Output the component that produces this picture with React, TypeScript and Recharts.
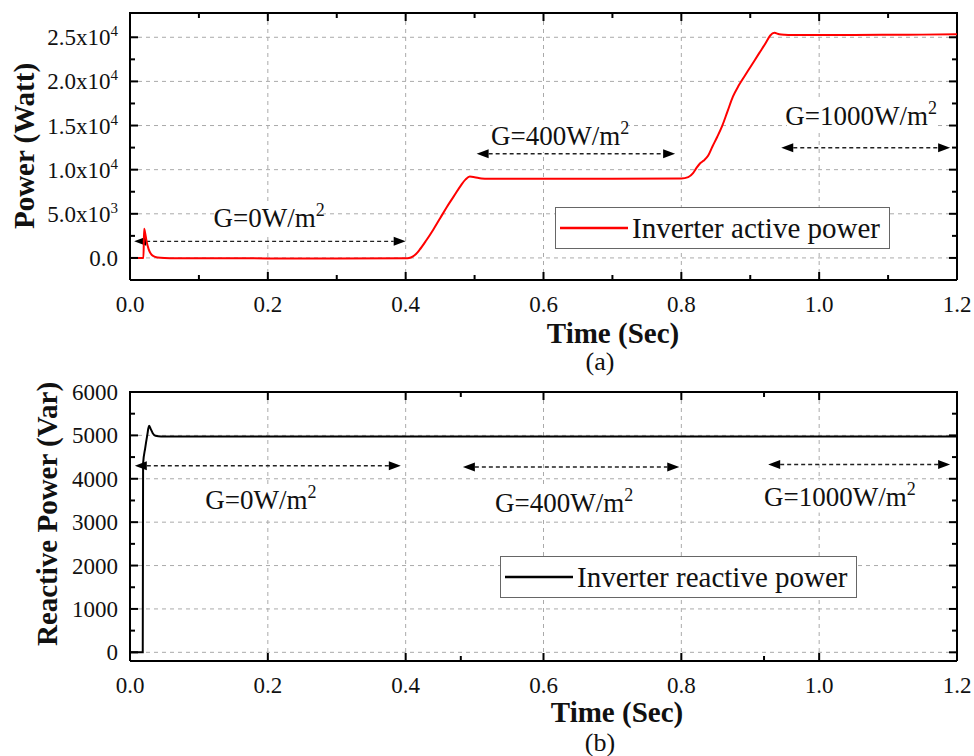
import React from "react";
import {
  Legend,
  Line,
  LineChart,
  ReferenceDot,
  ReferenceLine,
  XAxis,
  YAxis,
} from "recharts";

const SERIF = '"Liberation Serif", "Times New Roman", serif';

// (a) inverter active power (W) against time (s)
const TIME_P = [
  0, 0.0195, 0.0205, 0.022, 0.024, 0.027, 0.03, 0.034, 0.04, 0.05, 0.07, 0.1,
  0.2, 0.3, 0.4, 0.405, 0.41, 0.415, 0.42, 0.43, 0.44, 0.45, 0.46, 0.47, 0.48,
  0.487, 0.493, 0.5, 0.51, 0.52, 0.6, 0.7, 0.8, 0.81, 0.817, 0.822, 0.827,
  0.832, 0.839, 0.845, 0.852, 0.859, 0.867, 0.875, 0.883, 0.891, 0.9, 0.913,
  0.922, 0.929, 0.935, 0.942, 0.95, 0.96, 1.0, 1.05, 1.1, 1.15, 1.2,
];
const ACTIVE_P = [
  0, 0, 3300, 2800, 1900, 1000, 500, 200, 60, 0, -30, -40, -50, -50, -40, 0,
  150, 450, 900, 2000, 3200, 4500, 5800, 7000, 8200, 8900, 9220, 9150, 9000,
  8960, 8960, 8970, 8990, 9150, 9600, 10200, 10700, 11000, 11600, 12600, 13700,
  14900, 16600, 18300, 19500, 20500, 21600, 23200, 24300, 25200, 25500, 25350,
  25280, 25250, 25250, 25260, 25280, 25300, 25350,
];

// (b) inverter reactive power (Var) against time (s)
const TIME_Q = [
  0, 0.0185, 0.019, 0.022, 0.025, 0.0276, 0.03, 0.033, 0.037, 0.045, 0.1, 0.3,
  0.6, 0.9, 1.2,
];
const REACTIVE_Q = [
  0, 0, 4350, 4700, 5000, 5220, 5150, 5050, 4990, 4975, 4975, 4975, 4975, 4975,
  4975,
];

const TIME_MAJOR = [0, 0.2, 0.4, 0.6, 0.8, 1.0, 1.2];
const TIME_LABELS = ["0.0", "0.2", "0.4", "0.6", "0.8", "1.0", "1.2"];
const TIME_MINOR_A = [0.1, 0.3, 0.5, 0.7, 0.9, 1.1];
const TIME_MINOR_B = [0.48, 0.92];
const T_DOMAIN = [0, 1.2];

const P_MAJOR = [0, 5000, 10000, 15000, 20000, 25000];
const P_LABELS = ["0.0", "5.0x10^3", "1.0x10^4", "1.5x10^4", "2.0x10^4", "2.5x10^4"];
const P_MINOR = [2500, 7500, 12500, 17500, 22500];
const P_DOMAIN = [-2500, 27750];

const Q_MAJOR = [0, 1000, 2000, 3000, 4000, 5000, 6000];
const Q_LABELS = ["0", "1000", "2000", "3000", "4000", "5000", "6000"];
const Q_MINOR = [500, 1500, 2500, 3500, 4500, 5500];
const Q_DOMAIN = [-200, 6000];

const IRRADIANCE = ["G=0W/m^2", "G=400W/m^2", "G=1000W/m^2"];
const P_SPAN_START = [0.006, 0.503, 0.945];
const P_SPAN_END = [0.4, 0.791, 1.19];
const P_SPAN_LEVEL = [1880, 11800, 12480];
const P_TEXT_T = [0.202, 0.624, 1.061];
const P_TEXT_LEVEL = [4500, 13820, 16100];
const Q_SPAN_START = [0.007, 0.483, 0.926];
const Q_SPAN_END = [0.393, 0.797, 1.19];
const Q_SPAN_LEVEL = [4300, 4270, 4330];
const Q_TEXT_T = [0.19, 0.63, 1.03];
const Q_TEXT_LEVEL = [3500, 3450, 3590];

const activeRows = TIME_P.map((t, i) => ({ t, p: ACTIVE_P[i] }));
const reactiveRows = TIME_Q.map((t, i) => ({ t, q: REACTIVE_Q[i] }));

// plot boxes on the page (px)
const PLOT_L = 130;
const PLOT_W = 827;
const BOX_A = { top: 13, h: 267 };
const BOX_B = { top: 392, h: 269 };

const sorted = (a: number[]) => [...a].sort((x, y) => x - y);

const withSup = (label: string, supSize: number, rise: number) => {
  const [base, sup] = label.split("^");
  if (!sup) return base;
  return [
    <tspan key="b">{base}</tspan>,
    <tspan key="s" dy={-rise} fontSize={supSize}>
      {sup}
    </tspan>,
  ];
};

const GRID = { stroke: "#aaa", strokeWidth: 1, strokeDasharray: "4 4" };
const INK = { stroke: "#000", strokeWidth: 2 };

// inward ticks, Origin style
const leftTick = (major: number[], labels: string[]) => (props: any) => {
  const { x, y, payload } = props;
  const i = major.indexOf(payload.value);
  return (
    <g>
      <line x1={x} x2={x + (i >= 0 ? 8 : 5)} y1={y} y2={y} {...INK} />
      {i >= 0 && (
        <text x={x - 12} y={y} dy={8} textAnchor="end" fontFamily={SERIF} fontSize={23} fill="#111">
          {withSup(labels[i], 15, 9)}
        </text>
      )}
    </g>
  );
};

const bottomTick = (props: any) => {
  const { x, y, payload } = props;
  const i = TIME_MAJOR.indexOf(payload.value);
  return (
    <g>
      <line x1={x} x2={x} y1={y} y2={y - (i >= 0 ? 8 : 5)} {...INK} />
      {i >= 0 && (
        <text x={x} y={y + 32} textAnchor="middle" fontFamily={SERIF} fontSize={23} fill="#111">
          {TIME_LABELS[i]}
        </text>
      )}
    </g>
  );
};

// dashed grid, top/right frame and their inward ticks for one panel
function PanelFrame({ box, vDomain, vMajor, vMinor, tMinor }: any) {
  const [tMin, tMax] = T_DOMAIN;
  const [vMin, vMax] = vDomain;
  const px = (t: number) => PLOT_L + ((t - tMin) / (tMax - tMin)) * PLOT_W;
  const py = (v: number) => box.top + ((vMax - v) / (vMax - vMin)) * box.h;
  const right = PLOT_L + PLOT_W;
  const inner = (v: number) => v > vMin && v < vMax;
  return (
    <g>
      {TIME_MAJOR.filter((t) => t > tMin && t < tMax).map((t) => (
        <line key={`gv-${t}`} x1={px(t)} x2={px(t)} y1={box.top} y2={box.top + box.h} {...GRID} />
      ))}
      {vMajor.filter(inner).map((v: number) => (
        <line key={`gh-${v}`} x1={PLOT_L} x2={right} y1={py(v)} y2={py(v)} {...GRID} />
      ))}
      {sorted([...TIME_MAJOR, ...tMinor])
        .filter((t) => t > tMin && t < tMax)
        .map((t) => (
          <line
            key={`tt-${t}`}
            x1={px(t)}
            x2={px(t)}
            y1={box.top}
            y2={box.top + (TIME_MAJOR.includes(t) ? 8 : 5)}
            {...INK}
          />
        ))}
      {sorted([...vMajor, ...vMinor])
        .filter(inner)
        .map((v) => (
          <line
            key={`rt-${v}`}
            x1={right}
            x2={right - (vMajor.includes(v) ? 8 : 5)}
            y1={py(v)}
            y2={py(v)}
            {...INK}
          />
        ))}
      <line x1={PLOT_L - 1} x2={right + 1} y1={box.top} y2={box.top} {...INK} />
      <line x1={right} x2={right} y1={box.top} y2={box.top + box.h} {...INK} />
    </g>
  );
}

const arrowShape = (props: any) => {
  const { x1, y1, x2, y2 } = props;
  const L = 12;
  const H = 4.5;
  return (
    <g>
      <line x1={x1 + L} y1={y1} x2={x2 - L} y2={y2} stroke="#222" strokeWidth={1.4} strokeDasharray="4 3" />
      <polygon points={`${x1},${y1} ${x1 + L},${y1 - H} ${x1 + L},${y1 + H}`} fill="#000" />
      <polygon points={`${x2},${y2} ${x2 - L},${y2 - H} ${x2 - L},${y2 + H}`} fill="#000" />
    </g>
  );
};

const textShape = (label: string) => (props: any) => {
  const { cx, cy } = props;
  const w = label.length * 13.5;
  return (
    <g>
      <rect x={cx - w / 2} y={cy - 16} width={w} height={32} fill="#fff" />
      <text x={cx} y={cy} dy={9} textAnchor="middle" fontFamily={SERIF} fontSize={27} fill="#111">
        {withSup(label, 18, 11)}
      </text>
    </g>
  );
};

const LegendBox = ({ color, label, width }: { color: string; label: string; width: number }) => (
  <div
    style={{
      width,
      height: 42,
      boxSizing: "border-box",
      border: "1.5px solid #666",
      background: "#fff",
      display: "flex",
      alignItems: "center",
      fontFamily: SERIF,
      fontSize: 29,
      color: "#111",
      whiteSpace: "nowrap",
    }}
  >
    <svg width={76} height={10}>
      <line x1={4} x2={72} y1={5} y2={5} stroke={color} strokeWidth={2.5} />
    </svg>
    <span>{label}</span>
  </div>
);

const centered = (left: number, top: number, size: number, bold: boolean, rotate = false): React.CSSProperties => ({
  position: "absolute",
  left,
  top,
  transform: `translate(-50%, -50%)${rotate ? " rotate(-90deg)" : ""}`,
  fontFamily: SERIF,
  fontSize: size,
  fontWeight: bold ? 700 : 400,
  lineHeight: 1,
  whiteSpace: "nowrap",
  color: "#111",
});

export default function App() {
  return (
    <div style={{ position: "absolute", left: 0, top: 0, width: 974, height: 756, background: "#fff" }}>
      <svg width={974} height={756} style={{ position: "absolute", left: 0, top: 0 }}>
        <PanelFrame box={BOX_A} vDomain={P_DOMAIN} vMajor={P_MAJOR} vMinor={P_MINOR} tMinor={TIME_MINOR_A} />
        <PanelFrame box={BOX_B} vDomain={Q_DOMAIN} vMajor={Q_MAJOR} vMinor={Q_MINOR} tMinor={TIME_MINOR_B} />
      </svg>

      <div style={{ position: "absolute", left: 0, top: 0 }}>
        <LineChart width={974} height={380} data={activeRows} margin={{ top: 13, right: 17, left: 0, bottom: 0 }}>
          <XAxis
            dataKey="t"
            type="number"
            domain={T_DOMAIN}
            allowDataOverflow
            ticks={sorted([...TIME_MAJOR, ...TIME_MINOR_A])}
            interval={0}
            height={100}
            tickSize={0}
            tickMargin={0}
            tickLine={false}
            axisLine={INK}
            tick={bottomTick}
          />
          <YAxis
            type="number"
            domain={P_DOMAIN}
            allowDataOverflow
            ticks={sorted([...P_MAJOR, ...P_MINOR])}
            interval={0}
            width={130}
            tickSize={0}
            tickMargin={0}
            tickLine={false}
            axisLine={INK}
            tick={leftTick(P_MAJOR, P_LABELS)}
          />
          {IRRADIANCE.map((g, i) => (
            <ReferenceLine
              key={`pa-${i}`}
              segment={[
                { x: P_SPAN_START[i], y: P_SPAN_LEVEL[i] },
                { x: P_SPAN_END[i], y: P_SPAN_LEVEL[i] },
              ]}
              shape={arrowShape}
            />
          ))}
          {IRRADIANCE.map((g, i) => (
            <ReferenceDot key={`pt-${i}`} x={P_TEXT_T[i]} y={P_TEXT_LEVEL[i]} r={0} shape={textShape(g)} />
          ))}
          <Line
            type="monotone"
            dataKey="p"
            stroke="#ff0000"
            strokeWidth={2}
            dot={false}
            isAnimationActive={false}
          />
          <Legend
            layout="vertical"
            align="center"
            verticalAlign="middle"
            wrapperStyle={{ left: 555, top: 207, width: 335, height: 42 }}
            content={() => <LegendBox color="#ff0000" label="Inverter active power" width={335} />}
          />
        </LineChart>
      </div>

      <div style={{ position: "absolute", left: 0, top: 380 }}>
        <LineChart width={974} height={376} data={reactiveRows} margin={{ top: 12, right: 17, left: 0, bottom: 0 }}>
          <XAxis
            dataKey="t"
            type="number"
            domain={T_DOMAIN}
            allowDataOverflow
            ticks={sorted([...TIME_MAJOR, ...TIME_MINOR_B])}
            interval={0}
            height={95}
            tickSize={0}
            tickMargin={0}
            tickLine={false}
            axisLine={INK}
            tick={bottomTick}
          />
          <YAxis
            type="number"
            domain={Q_DOMAIN}
            allowDataOverflow
            ticks={sorted([...Q_MAJOR, ...Q_MINOR])}
            interval={0}
            width={130}
            tickSize={0}
            tickMargin={0}
            tickLine={false}
            axisLine={INK}
            tick={leftTick(Q_MAJOR, Q_LABELS)}
          />
          {IRRADIANCE.map((g, i) => (
            <ReferenceLine
              key={`qa-${i}`}
              segment={[
                { x: Q_SPAN_START[i], y: Q_SPAN_LEVEL[i] },
                { x: Q_SPAN_END[i], y: Q_SPAN_LEVEL[i] },
              ]}
              shape={arrowShape}
            />
          ))}
          {IRRADIANCE.map((g, i) => (
            <ReferenceDot key={`qt-${i}`} x={Q_TEXT_T[i]} y={Q_TEXT_LEVEL[i]} r={0} shape={textShape(g)} />
          ))}
          <Line
            type="monotone"
            dataKey="q"
            stroke="#000"
            strokeWidth={2}
            dot={false}
            isAnimationActive={false}
          />
          <Legend
            layout="vertical"
            align="center"
            verticalAlign="middle"
            wrapperStyle={{ left: 500, top: 176, width: 357, height: 42 }}
            content={() => <LegendBox color="#000" label="Inverter reactive power" width={357} />}
          />
        </LineChart>
      </div>

      <div style={centered(24, 146, 29, true, true)}>Power (Watt)</div>
      <div style={centered(613, 333, 29, true)}>Time (Sec)</div>
      <div style={centered(600, 362, 26, false)}>(a)</div>
      <div style={centered(47, 514, 29, true, true)}>Reactive Power (Var)</div>
      <div style={centered(617, 712, 29, true)}>Time (Sec)</div>
      <div style={centered(600, 743, 26, false)}>(b)</div>
    </div>
  );
}
